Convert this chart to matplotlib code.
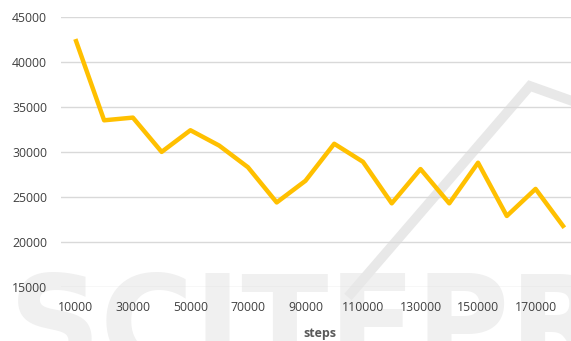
import numpy as np
import matplotlib
matplotlib.use("Agg")
from matplotlib import pyplot as plt
from matplotlib.lines import Line2D

plt.rcParams['font.family'] = ['Open Sans', 'DejaVu Sans']

steps = [10000, 20000, 30000, 40000, 50000, 60000, 70000, 80000, 90000,
         100000, 110000, 120000, 130000, 140000, 150000, 160000, 170000, 180000]
values = [42500, 33500, 33800, 30000, 32400, 30700, 28300, 24400, 26800,
          30900, 28900, 24300, 28100, 24300, 28800, 22900, 25900, 21600]
y_ticks = [15000, 20000, 25000, 30000, 35000, 40000, 45000]

text_grey = '#595959'
grid_grey = '#d9d9d9'

fig = plt.figure(figsize=(5.71, 3.41), dpi=100, facecolor='white')

# faint publisher watermark sitting behind the chart
fig.text(0.015, -0.075, 'SCITEPRESS', fontsize=92, fontweight='bold',
         family='DejaVu Sans', color='#f0f0f0', ha='left', va='baseline',
         zorder=-2)
fig.add_artist(Line2D([0.615, 0.928, 1.0], [0.14, 0.748, 0.705],
                      transform=fig.transFigure, color='#e8e8e8',
                      linewidth=7, solid_joinstyle='miter', zorder=-1))

ax = fig.add_axes([0.1068, 0.1575, 0.9067, 0.7941])
ax.patch.set_alpha(0)

x = np.arange(len(steps))
ax.plot(x, values, color='#FFC000', linewidth=3.2, solid_joinstyle='round',
        solid_capstyle='butt', zorder=3)

ax.set_xlim(-0.5, len(steps) - 0.5)
ax.set_ylim(15000, 45000)
ax.set_yticks(y_ticks)
ax.set_yticklabels([str(v) for v in y_ticks])
ax.set_xticks(x[::2])
ax.set_xticklabels([str(s) for s in steps[::2]])

ax.yaxis.grid(True, color=grid_grey, linewidth=1.0)
ax.set_axisbelow(True)
for sp in ax.spines.values():
    sp.set_visible(False)
ax.tick_params(axis='both', length=0, labelsize=8.8, labelcolor='#404040')
ax.tick_params(axis='y', pad=10)
ax.tick_params(axis='x', pad=10)

ax.set_xlabel('steps', fontsize=9, fontweight='bold', color=text_grey,
              labelpad=9)

fig.savefig('out.png', dpi=100, facecolor='white')
